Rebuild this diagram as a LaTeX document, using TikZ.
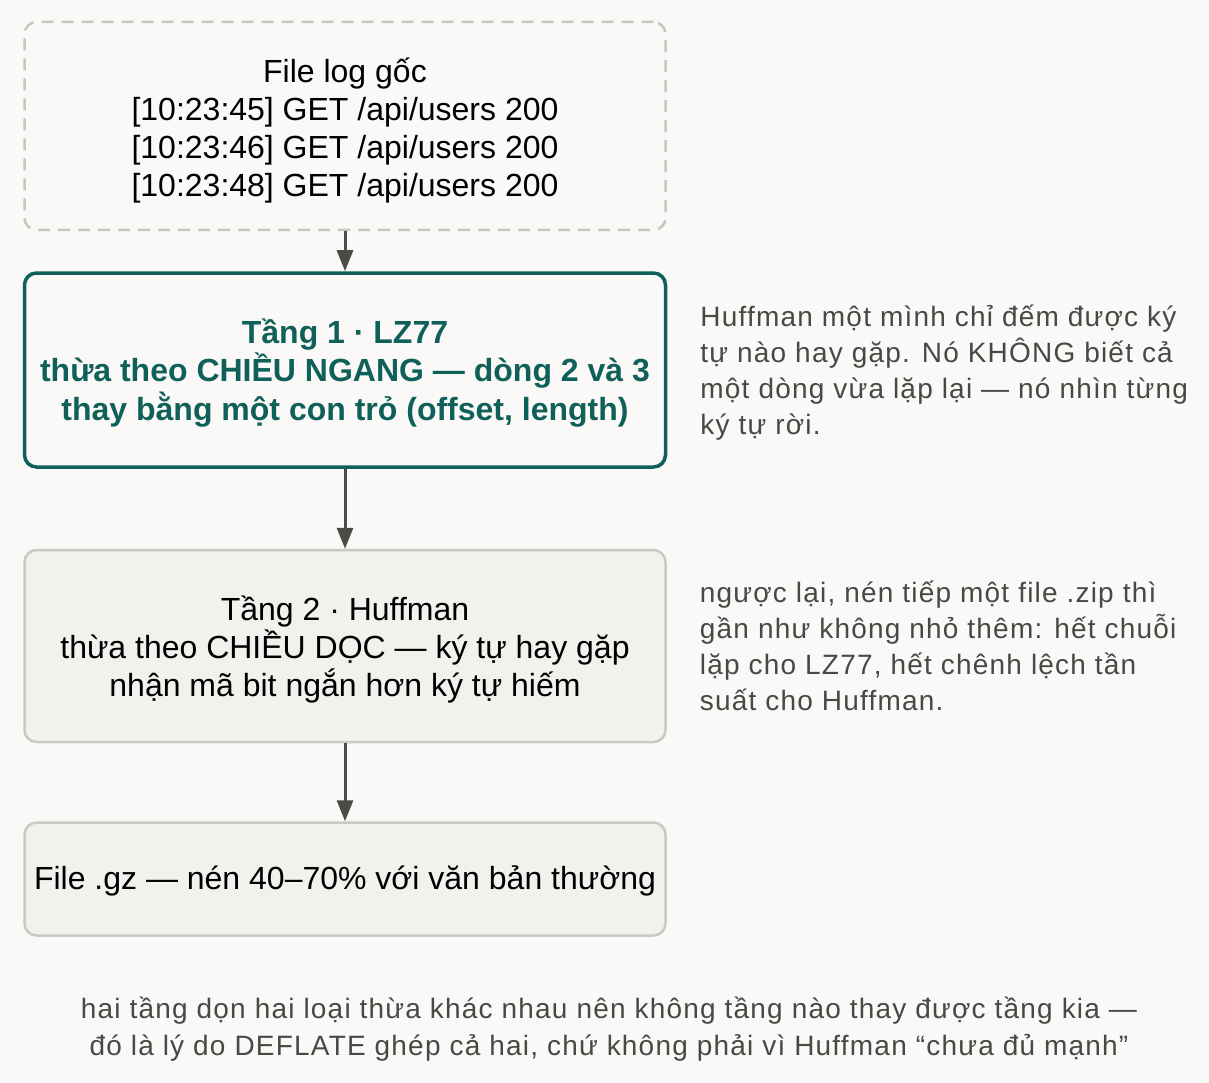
\documentclass[tikz,border=0pt]{standalone}
\usepackage{fontspec}
\setmainfont{Liberation Sans}
\newfontfamily\notefont[LetterSpace=4.3]{Liberation Sans}
\usetikzlibrary{arrows.meta,positioning}

\definecolor{paper}{HTML}{FAF9F7}
\definecolor{dashgray}{HTML}{C9C6C0}
\definecolor{lzteal}{HTML}{10605A}
\definecolor{hufffill}{HTML}{F2F1EE}
\definecolor{huffline}{HTML}{CBC9C4}
\definecolor{arrowgray}{HTML}{4D4B47}
\definecolor{notegray}{HTML}{4A4845}
\newcommand{\padtop}[1]{\rule{0pt}{#1}}

\begin{document}
\begin{tikzpicture}[x=1pt, y=1pt, node distance=40pt, >={Triangle[length=21pt,width=16pt]},
box/.style = {draw, rectangle, rounded corners=12pt, minimum width=641pt, align=center, inner sep=0pt, font=\fontsize{32}{38}\selectfont},
logbox/.style = {box, draw=dashgray, line width=2.5pt, dash pattern=on 12pt off 8pt, fill=paper, minimum height=208pt},
lzbox/.style = {box, draw=lzteal, line width=3.5pt, fill=paper, text=lzteal, minimum height=194pt, font=\fontsize{32}{38.5}\selectfont\bfseries},
huffbox/.style = {box, draw=huffline, line width=2.5pt, fill=hufffill, minimum height=192pt},
note/.style = {align=left, inner sep=0pt, text=notegray, font=\notefont\fontsize{28}{36}\selectfont},
flow/.style = {->, line width=3pt, draw=arrowgray, fill=arrowgray},
                    ]
    \fill[paper] (0,0) rectangle (1209,-1083);
    \node [logbox] at (345,-126)            (log){\padtop{33pt}File log gốc\\{[}10:23:45{]} GET /api/users 200\\{[}10:23:46{]} GET /api/users 200\\{[}10:23:48{]} GET /api/users 200};
    \node [lzbox, below=of log]             (lz){\padtop{30pt}Tầng 1 · LZ77\\thừa theo CHIỀU NGANG — dòng 2 và 3\\thay bằng một con trỏ (offset, length)};
    \node [huffbox, below=80pt of lz]       (huff){\padtop{31pt}Tầng 2 · Huffman\\thừa theo CHIỀU DỌC — ký tự hay gặp\\nhận mã bit ngắn hơn ký tự hiếm};
    \node [huffbox, below=78pt of huff, minimum height=113pt] (gz){\padtop{28pt}File .gz — nén 40–70\% với văn bản thường};
    \node [note, right=33pt of lz, yshift=-3pt] (lznote){Huffman một mình chỉ đếm được ký\\tự nào hay gặp. Nó KHÔNG biết cả\\một dòng vừa lặp lại — nó nhìn từng\\ký tự rời.};
    \node [note, right=33pt of huff]        (huffnote){ngược lại, nén tiếp một file .zip thì\\gần như không nhỏ thêm: hết chuỗi\\lặp cho LZ77, hết chênh lệch tần\\suất cho Huffman.};
    \node [note, align=center, font=\notefont\fontsize{28}{37}\selectfont] at (609,-1029) (summary){hai tầng dọn hai loại thừa khác nhau nên không tầng nào thay được tầng kia —\\đó là lý do DEFLATE ghép cả hai, chứ không phải vì Huffman “chưa đủ mạnh”};
    \draw[flow] (log) -- (lz);
    \draw[flow] (lz) -- (huff);
    \draw[flow] (huff) -- (gz);
\end{tikzpicture}
\end{document}
